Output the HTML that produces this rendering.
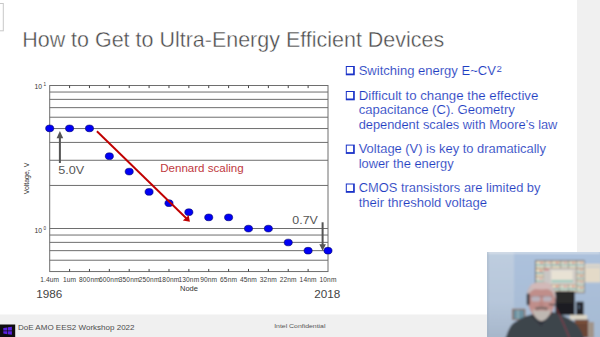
<!DOCTYPE html>
<html><head><meta charset="utf-8">
<style>
html,body{margin:0;padding:0;width:600px;height:337px;overflow:hidden;background:#fff;}
body{position:relative;font-family:"Liberation Sans",sans-serif;}
svg{position:absolute;left:0;top:0;}
</style></head><body>
<svg width="600" height="337" viewBox="0 0 600 337" font-family="Liberation Sans">

<rect x="577" y="0" width="23" height="253" fill="#f0f0f0"/>
<rect x="0" y="314.5" width="487" height="22.5" fill="#f0f0f0"/>
<rect x="-1" y="3.5" width="4.3" height="27.3" fill="none" stroke="#c8c8c8" stroke-width="1"/>
<text x="22.2" y="47" font-size="22.8" fill="#4a4a4a" stroke="#fff" stroke-width="0.4" textLength="422" lengthAdjust="spacingAndGlyphs">How to Get to Ultra-Energy Efficient Devices</text>
<g stroke="#6e6e6e" stroke-width="1" fill="none">
<rect x="49.7" y="85.5" width="278.30" height="186.05"/>
<line x1="49.7" y1="92.04" x2="328" y2="92.04"/>
<line x1="49.7" y1="99.36" x2="328" y2="99.36"/>
<line x1="49.7" y1="107.65" x2="328" y2="107.65"/>
<line x1="49.7" y1="117.22" x2="328" y2="117.22"/>
<line x1="49.7" y1="128.55" x2="328" y2="128.55"/>
<line x1="49.7" y1="142.41" x2="328" y2="142.41"/>
<line x1="49.7" y1="160.27" x2="328" y2="160.27"/>
<line x1="49.7" y1="185.45" x2="328" y2="185.45"/>
<line x1="49.7" y1="228.50" x2="328" y2="228.50"/>
<line x1="49.7" y1="235.04" x2="328" y2="235.04"/>
<line x1="49.7" y1="242.36" x2="328" y2="242.36"/>
<line x1="49.7" y1="250.65" x2="328" y2="250.65"/>
<line x1="49.7" y1="260.22" x2="328" y2="260.22"/>
</g>
<g stroke="#444" stroke-width="1">
<line x1="69.58" y1="268.95" x2="69.58" y2="271.55"/>
<line x1="69.58" y1="85.50" x2="69.58" y2="88.10"/>
<line x1="89.46" y1="268.95" x2="89.46" y2="271.55"/>
<line x1="89.46" y1="85.50" x2="89.46" y2="88.10"/>
<line x1="109.34" y1="268.95" x2="109.34" y2="271.55"/>
<line x1="109.34" y1="85.50" x2="109.34" y2="88.10"/>
<line x1="129.21" y1="268.95" x2="129.21" y2="271.55"/>
<line x1="129.21" y1="85.50" x2="129.21" y2="88.10"/>
<line x1="149.09" y1="268.95" x2="149.09" y2="271.55"/>
<line x1="149.09" y1="85.50" x2="149.09" y2="88.10"/>
<line x1="168.97" y1="268.95" x2="168.97" y2="271.55"/>
<line x1="168.97" y1="85.50" x2="168.97" y2="88.10"/>
<line x1="188.85" y1="268.95" x2="188.85" y2="271.55"/>
<line x1="188.85" y1="85.50" x2="188.85" y2="88.10"/>
<line x1="208.73" y1="268.95" x2="208.73" y2="271.55"/>
<line x1="208.73" y1="85.50" x2="208.73" y2="88.10"/>
<line x1="228.61" y1="268.95" x2="228.61" y2="271.55"/>
<line x1="228.61" y1="85.50" x2="228.61" y2="88.10"/>
<line x1="248.49" y1="268.95" x2="248.49" y2="271.55"/>
<line x1="248.49" y1="85.50" x2="248.49" y2="88.10"/>
<line x1="268.36" y1="268.95" x2="268.36" y2="271.55"/>
<line x1="268.36" y1="85.50" x2="268.36" y2="88.10"/>
<line x1="288.24" y1="268.95" x2="288.24" y2="271.55"/>
<line x1="288.24" y1="85.50" x2="288.24" y2="88.10"/>
<line x1="308.12" y1="268.95" x2="308.12" y2="271.55"/>
<line x1="308.12" y1="85.50" x2="308.12" y2="88.10"/>
</g>
<g fill="#333">
<text x="34.6" y="89" font-size="6.8">10</text><text x="43.6" y="86.2" font-size="4.6">1</text>
<text x="34.6" y="232.6" font-size="6.8">10</text><text x="43.6" y="229.8" font-size="4.6">0</text>
<text x="0" y="0" font-size="6.8" text-anchor="middle" transform="translate(28.6 178.5) rotate(-90)" textLength="31.5" lengthAdjust="spacingAndGlyphs">Voltage, V</text>
<text x="189" y="290.6" font-size="6.6" text-anchor="middle" textLength="18" lengthAdjust="spacingAndGlyphs">Node</text>
</g>
<g fill="#3a3a3a" font-size="6.6" letter-spacing="0.15" text-anchor="middle">
<text x="49.70" y="281.5">1.4um</text>
<text x="69.58" y="281.5">1um</text>
<text x="89.46" y="281.5">800nm</text>
<text x="109.34" y="281.5">600nm</text>
<text x="129.21" y="281.5">350nm</text>
<text x="149.09" y="281.5">250nm</text>
<text x="168.97" y="281.5">180nm</text>
<text x="188.85" y="281.5">130nm</text>
<text x="208.73" y="281.5">90nm</text>
<text x="228.61" y="281.5">65nm</text>
<text x="248.49" y="281.5">45nm</text>
<text x="268.36" y="281.5">32nm</text>
<text x="288.24" y="281.5">22nm</text>
<text x="308.12" y="281.5">14nm</text>
<text x="328.00" y="281.5">10nm</text>
</g>
<g fill="#555">
<text x="58.2" y="174.3" font-size="11.6" textLength="26" lengthAdjust="spacingAndGlyphs">5.0V</text>
<text x="292.3" y="223.8" font-size="11.6" textLength="25.5" lengthAdjust="spacingAndGlyphs">0.7V</text>
</g>
<g fill="#444">
<text x="36.2" y="298" font-size="11.3" textLength="26" lengthAdjust="spacingAndGlyphs">1986</text>
<text x="314.2" y="298" font-size="11.3" textLength="26" lengthAdjust="spacingAndGlyphs">2018</text>
</g>
<text x="160.2" y="171.9" font-size="11.6" fill="#c03840" textLength="83.5" lengthAdjust="spacingAndGlyphs">Dennard scaling</text>
<g fill="#555">
<rect x="58.9" y="136" width="2" height="27"/>
<polygon points="56.6,138.2 59.9,131 63.2,138.2"/>
<rect x="321.6" y="222.3" width="2" height="23"/>
<polygon points="319.3,244.3 322.6,250.8 325.9,244.3"/>
</g>
<g fill="#0000f5" stroke="#00006a" stroke-width="0.6">
<ellipse cx="49.70" cy="128.4" rx="4.05" ry="3.35"/>
<ellipse cx="69.58" cy="128.4" rx="4.05" ry="3.35"/>
<ellipse cx="89.46" cy="128.4" rx="4.05" ry="3.35"/>
<ellipse cx="109.34" cy="156.2" rx="4.05" ry="3.35"/>
<ellipse cx="129.21" cy="171.6" rx="4.05" ry="3.35"/>
<ellipse cx="149.09" cy="191.9" rx="4.05" ry="3.35"/>
<ellipse cx="168.97" cy="203.2" rx="4.05" ry="3.35"/>
<ellipse cx="188.85" cy="212.2" rx="4.05" ry="3.35"/>
<ellipse cx="208.73" cy="217.4" rx="4.05" ry="3.35"/>
<ellipse cx="228.61" cy="217.4" rx="4.05" ry="3.35"/>
<ellipse cx="248.49" cy="228.6" rx="4.05" ry="3.35"/>
<ellipse cx="268.36" cy="228.6" rx="4.05" ry="3.35"/>
<ellipse cx="288.24" cy="242.5" rx="4.05" ry="3.35"/>
<ellipse cx="308.12" cy="250.7" rx="4.05" ry="3.35"/>
<ellipse cx="328.00" cy="250.7" rx="4.05" ry="3.35"/>
</g>
<line x1="96.9" y1="131.3" x2="186.3" y2="218.3" stroke="#c00000" stroke-width="1.9"/>
<polygon points="189.9,221.8 182.8,220.5 188.7,215.3" fill="#c00000"/>
<rect x="345.8" y="66" width="9" height="9.3" fill="#1a32c8"/>
<rect x="346.8" y="67" width="6.3" height="6.5" fill="#fff"/>
<rect x="345.8" y="91" width="9" height="9.3" fill="#1a32c8"/>
<rect x="346.8" y="92" width="6.3" height="6.5" fill="#fff"/>
<rect x="345.8" y="144.6" width="9" height="9.3" fill="#1a32c8"/>
<rect x="346.8" y="145.6" width="6.3" height="6.5" fill="#fff"/>
<rect x="345.8" y="183.5" width="9" height="9.3" fill="#1a32c8"/>
<rect x="346.8" y="184.5" width="6.3" height="6.5" fill="#fff"/>
<g fill="#1f3ec2" font-size="12.3" stroke="#fff" stroke-width="0.12">
<text x="358.7" y="75.3" textLength="137.2" lengthAdjust="spacingAndGlyphs">Switching energy E~CV</text>
<text x="358.7" y="99.5" textLength="179.6" lengthAdjust="spacingAndGlyphs">Difficult to change the effective</text>
<text x="358.7" y="114.3" textLength="156.2" lengthAdjust="spacingAndGlyphs">capacitance (C). Geometry</text>
<text x="358.7" y="128.7" textLength="198.7" lengthAdjust="spacingAndGlyphs">dependent scales with Moore’s law</text>
<text x="358.7" y="153.1" textLength="187.2" lengthAdjust="spacingAndGlyphs">Voltage (V) is key to dramatically</text>
<text x="358.7" y="167.8" textLength="95.0" lengthAdjust="spacingAndGlyphs">lower the energy</text>
<text x="358.7" y="192.1" textLength="181.8" lengthAdjust="spacingAndGlyphs">CMOS transistors are limited by</text>
<text x="358.7" y="206.5" textLength="128.4" lengthAdjust="spacingAndGlyphs">their threshold voltage</text>
<text x="496.5" y="72" font-size="9.9" textLength="5.4" lengthAdjust="spacingAndGlyphs">2</text>
</g>
<rect x="0" y="324.5" width="15.2" height="12.5" fill="#0e0e0e"/>
<g fill="#5a22e0"><polygon points="3.3,328 7.3,327.4 7.3,330.6 3.3,330.6"/><polygon points="7.9,327.3 11.9,326.8 11.9,330.6 7.9,330.6"/><polygon points="3.3,331.2 7.3,331.2 7.3,334.2 3.3,333.6"/><polygon points="7.9,331.2 11.9,331.2 11.9,334.7 7.9,334.2"/></g>
<text x="18" y="329.6" font-size="7.7" fill="#4c4c4c" textLength="116.5" lengthAdjust="spacingAndGlyphs">DoE AMO EES2 Workshop 2022</text>
<text x="274.2" y="328.2" font-size="6" fill="#555" textLength="51.3" lengthAdjust="spacingAndGlyphs">Intel Confidential</text>
</svg>
<svg style="left:487px;top:252px" width="113" height="85" viewBox="0 0 113 85">
  <defs>
    <filter id="bl" x="-10%" y="-10%" width="120%" height="120%"><feGaussianBlur stdDeviation="0.9"/></filter>
    <linearGradient id="lw" x1="0" y1="0" x2="0" y2="1"><stop offset="0" stop-color="#bfcee0"/><stop offset="0.6" stop-color="#b6c6da"/><stop offset="1" stop-color="#a4b4c8"/></linearGradient>
    <linearGradient id="rw" x1="0" y1="0" x2="0" y2="1"><stop offset="0" stop-color="#adc2dd"/><stop offset="1" stop-color="#a6bad2"/></linearGradient>
  </defs>
  <g filter="url(#bl)">
  <rect x="-5" y="-5" width="123" height="95" fill="url(#rw)"/>
  <rect x="-5" y="-5" width="32" height="95" fill="url(#lw)"/>
  <!-- board -->
  <rect x="48" y="8.2" width="49.6" height="32.9" fill="#5e544f"/>
  <rect x="49.0" y="9.1" width="8.6" height="7.0" fill="#e6dcc4"/>
  <rect x="49.0" y="12.2" width="8.6" height="1.5" fill="#6fb8c0" opacity="0.85"/>
  <rect x="53.3" y="10.2" width="2.6" height="1.5" fill="#e07068" opacity="0.85"/>
  <rect x="58.2" y="9.1" width="6.3" height="7.0" fill="#e2d8c8"/>
  <rect x="58.2" y="12.2" width="6.3" height="1.5" fill="#80c0c8" opacity="0.85"/>
  <rect x="61.4" y="10.2" width="1.9" height="1.5" fill="#f0a080" opacity="0.85"/>
  <rect x="65.0" y="9.1" width="8.0" height="7.0" fill="#eadcc0"/>
  <rect x="65.0" y="12.2" width="8.0" height="1.5" fill="#60a8b8" opacity="0.85"/>
  <rect x="69.0" y="10.2" width="2.4" height="1.5" fill="#d86060" opacity="0.85"/>
  <rect x="73.6" y="9.1" width="7.4" height="7.0" fill="#dcd4c4"/>
  <rect x="73.6" y="12.2" width="7.4" height="1.5" fill="#90c8c0" opacity="0.85"/>
  <rect x="77.3" y="10.2" width="2.2" height="1.5" fill="#e89090" opacity="0.85"/>
  <rect x="81.6" y="9.1" width="7.4" height="7.0" fill="#e6dcc4"/>
  <rect x="81.6" y="12.2" width="7.4" height="1.5" fill="#6fb8c0" opacity="0.85"/>
  <rect x="85.3" y="10.2" width="2.2" height="1.5" fill="#e07068" opacity="0.85"/>
  <rect x="89.6" y="9.1" width="7.4" height="7.0" fill="#e2d8c8"/>
  <rect x="89.6" y="12.2" width="7.4" height="1.5" fill="#80c0c8" opacity="0.85"/>
  <rect x="93.3" y="10.2" width="2.2" height="1.5" fill="#f0a080" opacity="0.85"/>
  <rect x="49.0" y="16.8" width="7.5" height="7.7" fill="#eadcc0"/>
  <rect x="49.0" y="20.3" width="7.5" height="1.7" fill="#60a8b8" opacity="0.85"/>
  <rect x="52.8" y="18.0" width="2.2" height="1.7" fill="#d86060" opacity="0.85"/>
  <rect x="49.0" y="25.0" width="7.5" height="7.5" fill="#dcd4c4"/>
  <rect x="49.0" y="28.4" width="7.5" height="1.6" fill="#90c8c0" opacity="0.85"/>
  <rect x="52.8" y="26.1" width="2.2" height="1.6" fill="#e89090" opacity="0.85"/>
  <rect x="49.0" y="33.0" width="7.5" height="7.3" fill="#e6dcc4"/>
  <rect x="49.0" y="36.3" width="7.5" height="1.6" fill="#6fb8c0" opacity="0.85"/>
  <rect x="52.8" y="34.1" width="2.2" height="1.6" fill="#e07068" opacity="0.85"/>
  <rect x="57.0" y="32.5" width="7.5" height="7.8" fill="#e2d8c8"/>
  <rect x="57.0" y="36.0" width="7.5" height="1.7" fill="#80c0c8" opacity="0.85"/>
  <rect x="60.8" y="33.7" width="2.2" height="1.7" fill="#f0a080" opacity="0.85"/>
  <rect x="65.0" y="32.5" width="7.5" height="7.8" fill="#eadcc0"/>
  <rect x="65.0" y="36.0" width="7.5" height="1.7" fill="#60a8b8" opacity="0.85"/>
  <rect x="68.8" y="33.7" width="2.2" height="1.7" fill="#d86060" opacity="0.85"/>
  <rect x="73.0" y="32.5" width="8.0" height="7.8" fill="#dcd4c4"/>
  <rect x="73.0" y="36.0" width="8.0" height="1.7" fill="#90c8c0" opacity="0.85"/>
  <rect x="77.0" y="33.7" width="2.4" height="1.7" fill="#e89090" opacity="0.85"/>
  <rect x="81.5" y="32.5" width="7.5" height="7.8" fill="#e6dcc4"/>
  <rect x="81.5" y="36.0" width="7.5" height="1.7" fill="#6fb8c0" opacity="0.85"/>
  <rect x="85.2" y="33.7" width="2.2" height="1.7" fill="#e07068" opacity="0.85"/>
  <rect x="89.6" y="16.8" width="7.4" height="5.7" fill="#e2d8c8"/>
  <rect x="89.6" y="19.4" width="7.4" height="1.3" fill="#80c0c8" opacity="0.85"/>
  <rect x="93.3" y="17.7" width="2.2" height="1.3" fill="#f0a080" opacity="0.85"/>
  <rect x="89.6" y="23.0" width="7.4" height="5.5" fill="#eadcc0"/>
  <rect x="89.6" y="25.5" width="7.4" height="1.2" fill="#60a8b8" opacity="0.85"/>
  <rect x="93.3" y="23.8" width="2.2" height="1.2" fill="#d86060" opacity="0.85"/>
  <rect x="89.6" y="29.0" width="7.4" height="5.5" fill="#dcd4c4"/>
  <rect x="89.6" y="31.5" width="7.4" height="1.2" fill="#90c8c0" opacity="0.85"/>
  <rect x="93.3" y="29.8" width="2.2" height="1.2" fill="#e89090" opacity="0.85"/>
  <rect x="89.6" y="35.0" width="7.4" height="5.3" fill="#e6dcc4"/>
  <rect x="89.6" y="37.4" width="7.4" height="1.2" fill="#6fb8c0" opacity="0.85"/>
  <rect x="93.3" y="35.8" width="2.2" height="1.2" fill="#e07068" opacity="0.85"/>
  <rect x="56.6" y="16.5" width="32.6" height="15.6" fill="#dcd8d2"/>
  <rect x="57.2" y="17" width="5" height="1.4" fill="#d86868"/>
  <rect x="57.2" y="18.5" width="6.5" height="13" fill="#c9c6c4"/>
  <rect x="64.5" y="19" width="21" height="10" fill="#e8e2d4"/>
  <rect x="64.5" y="28.2" width="22" height="2" fill="#8cc4b8"/>
  <rect x="86" y="18" width="3" height="13" fill="#cfcac4"/>
  <!-- calendar -->
  <rect x="97.8" y="12" width="16" height="18.4" fill="#e4dac8"/>
  <rect x="99" y="14" width="14" height="1.5" fill="#c0c8d0"/>
  <!-- monitor -->
  <rect x="68.4" y="39.2" width="19.3" height="24" fill="#1e1e22"/>
  <rect x="70" y="41" width="16" height="10" fill="#2c2a2c"/>
  <!-- speaker -->
  <rect x="89.2" y="49.7" width="7.4" height="13.4" fill="#232326"/>
  <rect x="91" y="53" width="2" height="4" fill="#4a5a70"/>
  <!-- keyboard / desk -->
  <rect x="83" y="63" width="17" height="4.7" fill="#dcd6c6"/>
  <rect x="87.7" y="67.7" width="13.9" height="18" fill="#6b4535"/>
  <rect x="88.5" y="70" width="12" height="1" fill="#8a5a40"/>
  <rect x="101" y="70" width="6" height="16" fill="#a0948a"/>
  <!-- bag -->
  <rect x="25" y="56.8" width="13.3" height="11.2" fill="#8a6a58"/>
  <rect x="26.5" y="58" width="10.5" height="9" fill="#6a90a0"/>
  <rect x="30" y="58" width="2" height="9" fill="#8aa8b0"/>
  <!-- shirt -->
  <path d="M17,88 L19,85 C21,78 24,72 28,70 C33,67 38,64 43,63 L66,60 C72,62 80,65 86,69 C91,73 95,79 97.5,88 Z" fill="#3d444c"/>
  <path d="M43,63 L54,74 L66,60 L61,60 L54,68 L47,62 Z" fill="#30363d"/>
  <!-- red cable -->
  <path d="M68.5,55 C72,62 77,72 82.5,86" stroke="#9a4048" stroke-width="0.9" fill="none"/>
  <!-- head -->
  <path d="M40.2,45 C39.8,35 45,30.2 54.3,30.2 C63.5,30.2 68.4,35 68.4,45 C68.4,56 64,65 54.5,69 C45.5,65 40.5,56 40.2,45Z" fill="#c08e8a"/>
  <!-- hair -->
  <path d="M40,47 C39.6,35 45,30.4 54.3,30.4 C63.6,30.4 68.6,35 68.6,47 L66.8,44 C66.5,39 63,36.5 54.3,36.2 C46,36.5 42.2,39 41.8,44Z" fill="#c9bcbb"/>
  <ellipse cx="54.3" cy="34" rx="11" ry="3.6" fill="#d2b9b8"/>
  <!-- glasses -->
  <path d="M43.5,44.5 H65.5" stroke="#8a7c80" stroke-width="0.9"/>
  <rect x="44.5" y="44.6" width="8.6" height="5" rx="1.8" fill="#b9b2bc"/>
  <rect x="56" y="44.6" width="8.6" height="5" rx="1.8" fill="#b9b2bc"/>
  <!-- nose/mouth -->
  <ellipse cx="54.3" cy="52.5" rx="2.3" ry="2.6" fill="#b88480"/>
  <path d="M48,55.5 C50,54.5 58,54.5 61,55.5 L60,58 C57,57 51,57 49,58Z" fill="#7c6a68"/>
  <!-- beard -->
  <path d="M45.5,57 C46.5,65 51,69 54.5,69 C58,69 63,65 64,57 C61,59.5 57,58.5 54.5,58.5 C52,58.5 48,59.5 45.5,57Z" fill="#bfb8b2"/>
  <!-- headset -->
  <rect x="39.7" y="41.5" width="2.8" height="11.8" rx="1.2" fill="#303034"/>
  <path d="M62,52.5 L70,53" stroke="#252528" stroke-width="1.1"/>
  <rect x="0" y="0" width="113" height="1.3" fill="#e6ebf0"/>
  <rect x="0" y="0" width="1" height="85" fill="#9aa8b8"/>
  </g>
</svg>

</body></html>
